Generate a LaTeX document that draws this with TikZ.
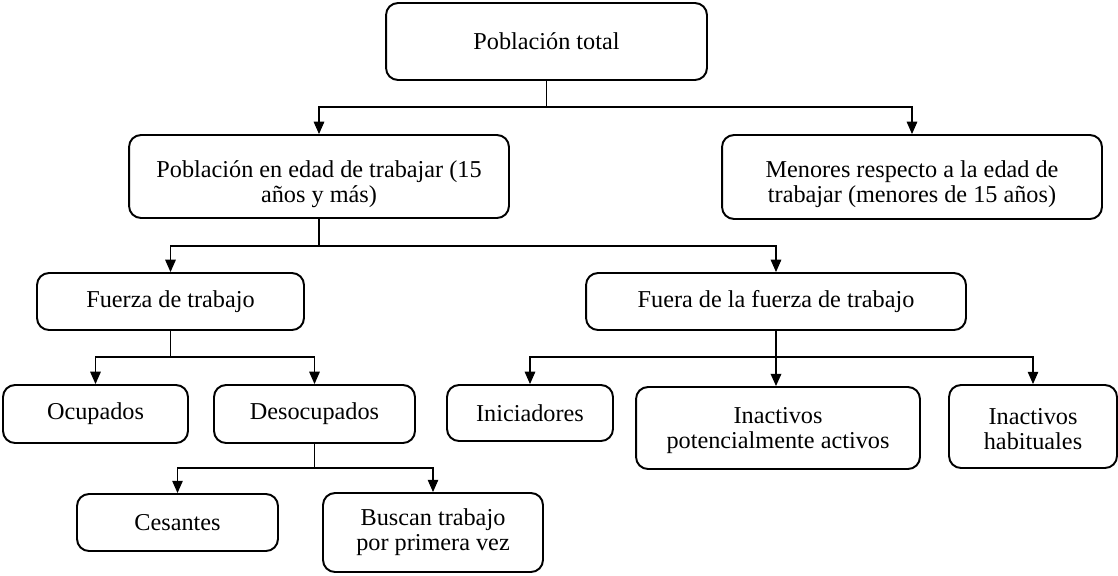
\documentclass[tikz,border=0pt]{standalone}
\usepackage{fontspec}
\setmainfont{Liberation Serif}
\usetikzlibrary{arrows.meta}

\begin{document}
\begin{tikzpicture}[x=0.02cm,y=-0.02cm,
            >={Triangle[length=7pt,width=6pt]},
            box/.style={draw,rectangle,rounded corners=0.24cm,line width=1.1pt,
                inner sep=0pt,align=center,font=\fontsize{13.8}{14.4}\selectfont},
            link/.style={line width=0.6pt}]

        \useasboundingbox (0,0) rectangle (1118,575);

        % Define vertices
        \node[box,minimum width=6.42cm,minimum height=1.54cm] (total) at (546.5,41.5) {Población total};
        \node[box,minimum width=7.6cm,minimum height=1.66cm] (edad) at (319,176.5) {\rule{0pt}{18pt}Población en edad de trabajar (15\\años y más)};
        \node[box,minimum width=7.6cm,minimum height=1.68cm] (menores) at (912,177) {\rule{0pt}{18pt}Menores respecto a la edad de\\trabajar (menores de 15 años)};
        \node[box,minimum width=5.34cm,minimum height=1.14cm] (fuerza) at (170.5,301.5) {Fuerza de trabajo};
        \node[box,minimum width=7.6cm,minimum height=1.14cm] (fuera) at (776,301.5) {Fuera de la fuerza de trabajo};
        \node[box,minimum width=3.7cm,minimum height=1.16cm] (ocup) at (95.5,414) {Ocupados};
        \node[box,minimum width=4.02cm,minimum height=1.16cm] (desoc) at (314.5,414) {Desocupados};
        \node[box,minimum width=3.32cm,minimum height=1.12cm] (inic) at (530,413) {Iniciadores};
        \node[box,minimum width=5.68cm,minimum height=1.64cm] (inpot) at (778,428) {\rule{0pt}{12pt}Inactivos\\potencialmente activos};
        \node[box,minimum width=3.36cm,minimum height=1.66cm] (inhab) at (1033,426.5) {\rule{0pt}{12pt}Inactivos\\habituales};
        \node[box,minimum width=4.02cm,minimum height=1.14cm] (ces) at (177.5,522.5) {Cesantes};
        \node[box,minimum width=4.4cm,minimum height=1.58cm] (busc) at (433,532.5) {Buscan trabajo\\por primera vez};

        % branch points
        \coordinate (b0) at (total.south |- 0,107);
        \coordinate (b1) at (edad.south |- 0,246);
        \coordinate (b2) at (fuerza.south |- 0,357);
        \coordinate (b3) at (fuera.south |- 0,357);
        \coordinate (b4) at (desoc.south |- 0,468);

        % Draw edges
        \draw[link] (total) -- (b0);
        \draw[link,->] (b0) -| (edad);
        \draw[link,->] (b0) -| (menores);
        \draw[link] (edad) -- (b1);
        \draw[link,->] (b1) -| (fuerza);
        \draw[link,->] (b1) -| (fuera);
        \draw[link] (fuerza) -- (b2);
        \draw[link,->] (b2) -| (ocup);
        \draw[link,->] (b2) -| (desoc);
        \draw[line width=1.1pt,->] (fuera) -- (fuera.south |- inpot.north);
        \draw[link,->] (b3) -| (inic);
        \draw[link,->] (b3) -| (inhab);
        \draw[link] (desoc) -- (b4);
        \draw[link,->] (b4) -| (ces);
        \draw[link,->] (b4) -| (busc);

\end{tikzpicture}
\end{document}
